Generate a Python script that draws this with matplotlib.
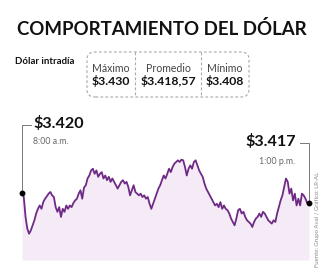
import numpy as np
import matplotlib
matplotlib.use("Agg")
import matplotlib.pyplot as plt
from matplotlib.patches import FancyBboxPatch
from matplotlib.lines import Line2D

# datos (precio del dolar intradia, 8:00 a.m. a 1:00 p.m.)
precios = [3420.0, 3418.7, 3412.8, 3409.3, 3407.8, 3408.8, 3410.3, 3411.8, 3413.8, 3415.2,
           3416.2, 3415.2, 3417.2, 3418.2, 3418.9, 3419.7, 3420.2, 3419.2, 3418.7, 3415.7,
           3414.3, 3415.7, 3412.8, 3415.2, 3414.3, 3416.2, 3415.2, 3416.2, 3415.7, 3416.9,
           3417.7, 3418.2, 3419.7, 3420.7, 3418.2, 3421.5, 3422.2, 3424.2, 3425.1, 3426.6,
           3427.1, 3425.6, 3426.6, 3424.7, 3425.6, 3426.1, 3424.2, 3425.1, 3423.7, 3424.7,
           3423.2, 3424.2, 3423.2, 3422.2, 3421.2, 3422.2, 3423.2, 3423.7, 3422.7, 3423.2,
           3421.7, 3419.2, 3420.7, 3422.2, 3420.2, 3419.7, 3419.2, 3419.7, 3418.7, 3419.2,
           3418.2, 3418.7, 3416.7, 3415.2, 3416.7, 3418.2, 3419.7, 3421.2, 3422.2, 3423.7,
           3425.1, 3424.2, 3425.6, 3427.1, 3426.1, 3427.6, 3428.6, 3429.1, 3429.6, 3429.1,
           3429.8, 3429.6, 3427.6, 3425.1, 3427.1, 3428.1, 3427.1, 3429.1, 3429.6, 3428.1,
           3426.6, 3425.6, 3424.7, 3422.7, 3421.2, 3420.2, 3419.2, 3418.2, 3417.2, 3416.2,
           3416.7, 3415.7, 3417.2, 3415.2, 3416.2, 3415.2, 3414.8, 3413.8, 3412.3, 3411.3,
           3410.3, 3412.3, 3414.8, 3415.2, 3413.8, 3414.3, 3412.8, 3411.8, 3411.3, 3410.8,
           3409.8, 3411.3, 3412.3, 3412.8, 3413.8, 3412.8, 3414.3, 3413.8, 3412.8, 3411.8,
           3411.3, 3410.8, 3411.8, 3411.3, 3413.8, 3415.7, 3417.7, 3419.2, 3421.7, 3424.2,
           3423.2, 3419.7, 3421.2, 3417.7, 3419.7, 3416.2, 3418.2, 3416.2, 3419.7, 3419.2,
           3418.2, 3416.9, 3417.0]
minutos = np.linspace(0, 300, len(precios))  # 8:00 -> 13:00

resumen_labels = ["Máximo", "Promedio", "Mínimo"]
resumen_valores = ["$3.430", "$3.418,57", "$3.408"]

titulo = "COMPORTAMIENTO DEL DÓLAR"
subtitulo = "Dólar intradía"
fuente = "Fuente: Grupo Aval / Gráfico: LR-AL"

W, H = 336, 280
morado = "#6e2a85"
relleno = "#f5ebf7"
gris = "#666666"
fam = ["Lato", "DejaVu Sans"]

def px(x, y):
    return x / W, 1 - y / H

fig = plt.figure(figsize=(W / 100, H / 100), dpi=100, facecolor="white")

# --- encabezado ---
fig.text(*px(17, 29), titulo, fontsize=13.4, fontweight="bold", family=fam,
         color="#111111", va="center", ha="left")
fig.text(*px(15, 61), subtitulo, fontsize=6.9, fontweight="bold", family=fam,
         color="#111111", va="center", ha="left")

x0, y0, x1, y1 = 87, 52, 249, 97
caja = FancyBboxPatch(px(x0, y1), (x1 - x0) / W, (y1 - y0) / H,
                      boxstyle="round,pad=0,rounding_size=0.025",
                      transform=fig.transFigure, fill=False,
                      edgecolor="#a8a8a8", linestyle=(0, (2.5, 2)), linewidth=0.8)
fig.add_artist(caja)
for xd in [135, 201]:
    fig.add_artist(Line2D([xd / W, xd / W], [1 - y0 / H, 1 - y1 / H],
                          transform=fig.transFigure, color="#a8a8a8",
                          linestyle=(0, (2.5, 2)), linewidth=0.8))
centros = [111, 168, 225]
for cx, lab, val in zip(centros, resumen_labels, resumen_valores):
    fig.text(*px(cx, 69), lab, fontsize=7.6, family=fam, color="#444444",
             ha="center", va="center")
    fig.text(*px(cx, 81), val, fontsize=8.8, fontweight="bold", family=fam,
             color="#111111", ha="center", va="center")

# --- grafico ---
ax = fig.add_axes([22 / W, 20 / H, 287 / W, 134.7 / H])
ax.fill_between(minutos, precios, 3400, color=relleno, linewidth=0)
ax.plot(minutos, precios, color=morado, linewidth=1.3)
ax.set_xlim(0, 300)
ax.set_ylim(3400, 3440)
ax.axis("off")

# anotacion inicial
ax.plot([minutos[0], minutos[0], 9], [precios[0], 3440, 3440], color="#777777",
        linewidth=0.7, clip_on=False)
ax.plot(minutos[0], precios[0], "o", color="black", markersize=3.2, clip_on=False)
ax.text(11.5, 3440.4, "$3.420", fontsize=11.6, fontweight="bold", family=fam,
        color="#111111", va="center", ha="left")
ax.text(11.5, 3435.2, "8:00 a.m.", fontsize=6.3, family=fam, color=gris,
        va="center", ha="left")

# anotacion final
ax.plot([minutos[-1], minutos[-1], 291], [precios[-1], 3434.7, 3434.7], color="#777777",
        linewidth=0.7, clip_on=False)
ax.plot(minutos[-1], precios[-1], "o", color="black", markersize=3.2, clip_on=False)
ax.text(286, 3435.1, "$3.417", fontsize=11.6, fontweight="bold", family=fam,
        color="#111111", va="center", ha="right")
ax.text(286, 3429.2, "1:00 p.m.", fontsize=6.3, family=fam, color=gris,
        va="center", ha="right")

fig.text(*px(317, 267), fuente, fontsize=4.3, family=fam, color="#888888",
         rotation=90, ha="center", va="bottom")

fig.savefig("out.png", dpi=100, facecolor="white")
